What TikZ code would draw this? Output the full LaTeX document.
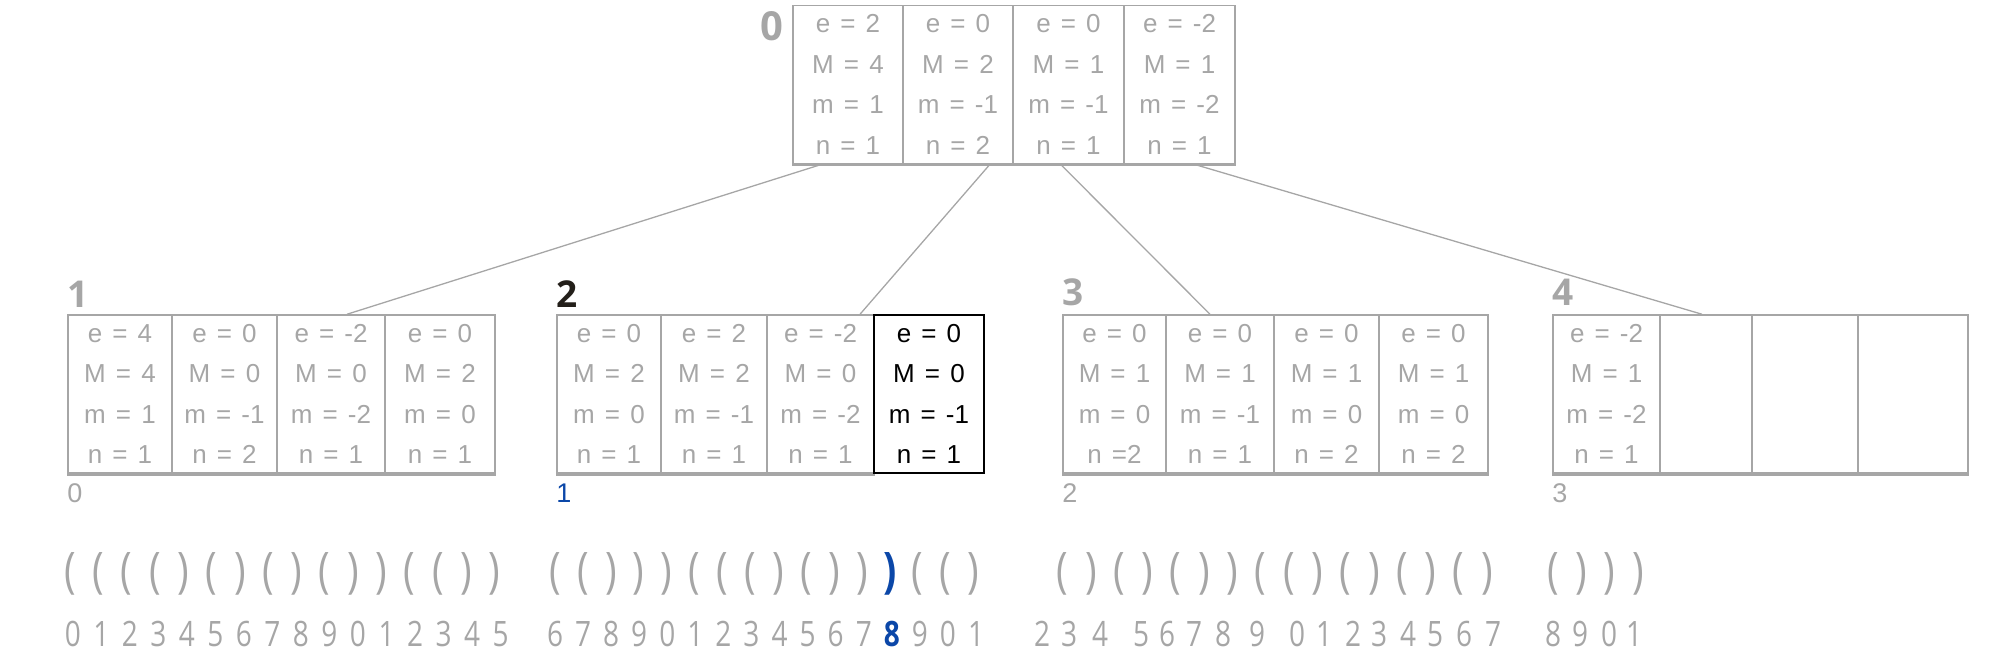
\documentclass[tikz,border=0pt]{standalone}
\usepackage{fontspec}
\setmainfont{Liberation Sans}
\newfontfamily\cellfont{Liberation Sans}[WordSpace=1.4]
\newfontfamily\labelfont{Open Sans}
\newfontfamily\seqfont{Open Sans}[FakeStretch=0.8]
\definecolor{treegray}{RGB}{166,166,166}
\definecolor{markblue}{RGB}{11,71,168}
\definecolor{markdark}{RGB}{35,31,26}
\newcommand\paro{(}
\newcommand\parc{)}
\newcommand\parB{\textbf{\color{markblue})}}
\newcommand\markeight{\textbf{\color{markblue}8}}

\begin{document}
\begin{tikzpicture}[x=1pt,y=-1pt,
  cell/.style={draw=treegray,line width=1.5pt,text=treegray,inner sep=0pt,
    minimum height=158pt,align=center,font=\cellfont\fontsize{26}{40.5}\selectfont},
  hot/.style={cell,draw=black,line width=2.4pt,text=black},
  link/.style={draw=treegray,line width=1.3pt},
  floor/.style={draw=treegray,line width=2.5pt},
  lvlnum/.style={font=\labelfont\bfseries\fontsize{37}{37}\selectfont,text=treegray,inner sep=0pt},
  idx/.style={font=\fontsize{27}{27}\selectfont,text=treegray,inner sep=0pt,anchor=base west},
  paren/.style={font=\seqfont\fontsize{49}{49}\selectfont,text=treegray,inner sep=0pt},
  digit/.style={font=\seqfont\fontsize{35}{35}\selectfont,text=treegray,inner sep=0pt,anchor=base}]
\useasboundingbox (0,0) rectangle (1994,660);

% root
\node[cell,minimum width=110pt] (n0c1) at (848,84.5) {e = 2\\M = 4\\m = 1\\n = 1};
\node[cell,minimum width=110pt] (n0c2) at (958,84.5) {e = 0\\M = 2\\m = -1\\n = 2};
\node[cell,minimum width=111pt] (n0c3) at (1068.5,84.5) {e = 0\\M = 1\\m = -1\\n = 1};
\node[cell,minimum width=111pt] (n0c4) at (1179.5,84.5) {e = -2\\M = 1\\m = -2\\n = 1};

% leaves
\node[cell,minimum width=104pt] (n1c1) at (120,394) {e = 4\\M = 4\\m = 1\\n = 1};
\node[cell,minimum width=105pt] (n1c2) at (224.5,394) {e = 0\\M = 0\\m = -1\\n = 2};
\node[cell,minimum width=108pt] (n1c3) at (331,394) {e = -2\\M = 0\\m = -2\\n = 1};
\node[cell,minimum width=110pt] (n1c4) at (440,394) {e = 0\\M = 2\\m = 0\\n = 1};

\node[cell,minimum width=104pt] (n2c1) at (609,394) {e = 0\\M = 2\\m = 0\\n = 1};
\node[cell,minimum width=106pt] (n2c2) at (714,394) {e = 2\\M = 2\\m = -1\\n = 1};
\node[cell,minimum width=107pt] (n2c3) at (820.5,394) {e = -2\\M = 0\\m = -2\\n = 1};

\node[cell,minimum width=103pt] (n3c1) at (1114.5,394) {e = 0\\M = 1\\m = 0\\n =2};
\node[cell,minimum width=108pt] (n3c2) at (1220,394) {e = 0\\M = 1\\m = -1\\n = 1};
\node[cell,minimum width=105pt] (n3c3) at (1326.5,394) {e = 0\\M = 1\\m = 0\\n = 2};
\node[cell,minimum width=109pt] (n3c4) at (1433.5,394) {e = 0\\M = 1\\m = 0\\n = 2};

\node[cell,minimum width=107pt] (n4c1) at (1606.5,394) {e = -2\\M = 1\\m = -2\\n = 1};
\node[cell,minimum width=92pt] (n4c2) at (1706,394) {};
\node[cell,minimum width=106pt] (n4c3) at (1805,394) {};
\node[cell,minimum width=110pt] (n4c4) at (1913,394) {};

\draw[floor] ([yshift=-1pt]n0c1.south west) -- ([yshift=-1pt]n0c4.south east);
\draw[floor] ([yshift=-1pt]n1c1.south west) -- ([yshift=-1pt]n1c4.south east);
\draw[floor] ([yshift=-1pt]n2c1.south west) -- ([yshift=-1pt]n2c3.south east);
\draw[floor] ([yshift=-1pt]n3c1.south west) -- ([yshift=-1pt]n3c4.south east);
\draw[floor] ([yshift=-1pt]n4c1.south west) -- ([yshift=-1pt]n4c4.south east);

\node[hot,minimum width=110pt] (n2c4) at (929,394) {e = 0\\M = 0\\m = -1\\n = 1};

\draw[link] ([xshift=-26pt]n0c1.south) -- ([xshift=16pt]n1c3.north);
\draw[link] ([xshift=32pt]n0c2.south) -- ([xshift=39.5pt]n2c3.north);
\draw[link] ([xshift=-8pt]n0c3.south) -- ([xshift=-10pt]n3c2.north);
\draw[link] ([xshift=14.5pt]n0c4.south) -- ([xshift=-4pt]n4c2.north);

% node numbers
\node[lvlnum,font=\labelfont\bfseries\fontsize{40}{40}\selectfont,anchor=base east] (l0) at ([xshift=-9pt,yshift=-36pt]n0c1.north west) {0};
\node[lvlnum,anchor=base west] (l1) at ([yshift=7pt]n1c1.north west) {1};
\node[lvlnum,anchor=base west,text=markdark] (l2) at ([yshift=7pt]n2c1.north west) {2};
\node[lvlnum,anchor=base west] (l3) at ([yshift=9pt]n3c1.north west) {3};
\node[lvlnum,anchor=base west] (l4) at ([yshift=9pt]n4c1.north west) {4};

% block numbers
\node[idx] (b0) at ([yshift=-29pt]n1c1.south west) {0};
\node[idx,text=markblue] (b1) at ([yshift=-29pt]n2c1.south west) {1};
\node[idx] (b2) at ([yshift=-29pt]n3c1.south west) {2};
\node[idx] (b3) at ([yshift=-29pt]n4c1.south west) {3};

% parentheses
\foreach \p [count=\i from 0] in {o,o,o,o,c,o,c,o,c,o,c,c,o,o,c,c}
  \node[paren] (p\i) at (70+28.3*\i,574) {\csname par\p\endcsname};
\foreach \p [count=\i from 16] in {o,o,c,c,c,o,o,o,c,o,c,c,B,o,o,c}
  \node[paren] (p\i) at (555+27.9*\i-27.9*16,574) {\csname par\p\endcsname};
\foreach \p [count=\i from 32] in {o,c,o,c,o,c,c,o,o,c,o,c,o,c,o,c}
  \node[paren] (p\i) at (1062.5+28.3*\i-28.3*32,574) {\csname par\p\endcsname};
\foreach \p [count=\i from 48] in {o,c,c,c}
  \node[paren] (p\i) at (1553+28.3*\i-28.3*48,574) {\csname par\p\endcsname};

% positions
\foreach \d [count=\i from 0] in {0,1,2,3,4,5,6,7,8,9,0,1,2,3,4,5}
  \node[digit] (d\i) at (73+28.5*\i,646) {\d};
\foreach \d [count=\i from 16] in {6,7,8,9,0,1,2,3,4,5,6,7,\markeight,9,0,1}
  \node[digit] (d\i) at (555+28.07*\i-28.07*16,646) {\d};
\foreach \x/\d [count=\i from 32] in {1042/2,1069/3,1100/4,1141/5,1167/6,1194/7,1223/8,1257/9,
    1297/0,1324/1,1353/2,1379/3,1408/4,1435/5,1464/6,1493/7}
  \node[digit] (d\i) at (\x,646) {\d};
\foreach \x/\d [count=\i from 48] in {1553/8,1580/9,1609/0,1634/1}
  \node[digit] (d\i) at (\x,646) {\d};
\end{tikzpicture}
\end{document}
